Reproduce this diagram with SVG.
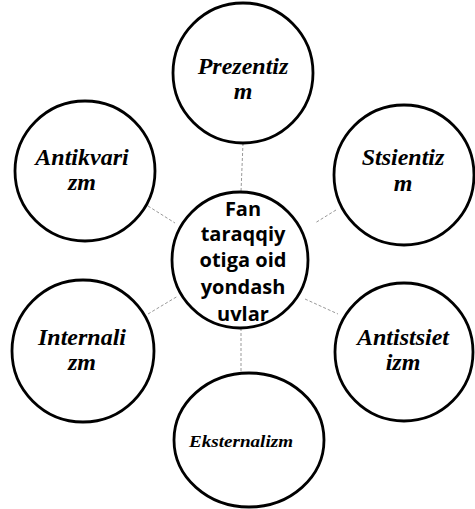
<svg xmlns="http://www.w3.org/2000/svg" width="475" height="509" viewBox="0 0 475 509">
<style>
.c{fill:#fff;stroke:#000;stroke-width:2.8}
.t{font-family:"Liberation Serif","DejaVu Serif","Times New Roman",serif;font-weight:bold;font-style:italic;font-size:24px;text-anchor:middle;fill:#000}
.m{font-family:"Open Sans","DejaVu Sans",sans-serif;font-weight:bold;font-size:20px;text-anchor:middle;fill:#000}
.l{stroke:#999;stroke-width:1;stroke-dasharray:3 2;fill:none}
</style>
<rect width="475" height="509" fill="#fff"/>
<g id="connectors">
<line class="l" x1="243" y1="143" x2="241" y2="192"/>
<line class="l" x1="241" y1="328" x2="241" y2="372"/>
<line class="l" x1="148" y1="206" x2="175" y2="223"/>
<line class="l" x1="336" y1="210" x2="315" y2="223"/>
<line class="l" x1="148" y1="314" x2="178" y2="296"/>
<line class="l" x1="305" y1="299" x2="338" y2="314"/>
</g>
<g id="prezentizm">
<circle class="c" cx="243" cy="73" r="70"/>
<text class="t" x="243" y="74">Prezentiz</text>
<text class="t" x="243" y="99">m</text>
</g>
<g id="antikvarizm">
<circle class="c" cx="85" cy="171" r="70"/>
<text class="t" x="82" y="165">Antikvari</text>
<text class="t" x="82" y="190">zm</text>
</g>
<g id="stsientizm">
<circle class="c" cx="404" cy="175" r="70"/>
<text class="t" x="403" y="165">Stsientiz</text>
<text class="t" x="403" y="191">m</text>
</g>
<g id="center">
<circle class="c" cx="240" cy="260" r="68"/>
<text class="m" x="243" y="216">Fan</text>
<text class="m" x="243" y="241">taraqqiy</text>
<text class="m" x="243" y="267">otiga oid</text>
<text class="m" x="243" y="294">yondash</text>
<text class="m" x="243" y="321">uvlar</text>
</g>
<g id="internalizm">
<circle class="c" cx="83" cy="351" r="71"/>
<text class="t" x="82" y="345">Internali</text>
<text class="t" x="82" y="370">zm</text>
</g>
<g id="antistsietizm">
<circle class="c" cx="404" cy="352" r="69"/>
<text class="t" x="403" y="345">Antistsiet</text>
<text class="t" x="403" y="370">izm</text>
</g>
<g id="eksternalizm">
<ellipse class="c" cx="249" cy="440" rx="75" ry="67"/>
<text class="t" x="241" y="447" style="font-size:17px" textLength="104" lengthAdjust="spacingAndGlyphs">Eksternalizm</text>
</g>
</svg>
